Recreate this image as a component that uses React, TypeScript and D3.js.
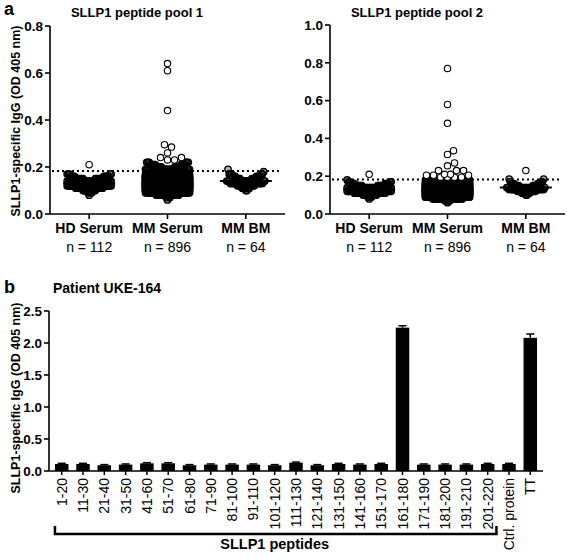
import React, { useMemo } from 'react';
import * as d3 from 'd3';

// ---------- Panel a data (grouped into bins with counts) ----------
const GROUPS = ['HD Serum', 'MM Serum', 'MM BM'];
const GROUP_N = ['n = 112', 'n = 896', 'n = 64'];
const CUTOFF = 0.183;

// pool 1
const P1_HD_VALUES = [0.08, 0.09, 0.10, 0.11, 0.12, 0.13, 0.14, 0.15, 0.16, 0.17, 0.21];
const P1_HD_COUNTS = [1, 3, 7, 12, 22, 18, 20, 14, 9, 5, 1];
const P1_MM_VALUES = [0.06, 0.07, 0.08, 0.09, 0.10, 0.11, 0.12, 0.13, 0.14, 0.15, 0.16, 0.17, 0.18, 0.19, 0.20, 0.21, 0.22, 0.23, 0.24, 0.26, 0.285, 0.295, 0.44, 0.61, 0.64];
const P1_MM_COUNTS = [1, 3, 15, 45, 80, 110, 128, 125, 105, 90, 75, 37, 30, 17, 10, 9, 6, 2, 2, 1, 1, 1, 1, 1, 1];
const P1_BM_VALUES = [0.10, 0.11, 0.12, 0.13, 0.14, 0.15, 0.16, 0.17, 0.18, 0.19];
const P1_BM_COUNTS = [2, 5, 8, 13, 14, 8, 7, 5, 1, 1];

// pool 2
const P2_HD_VALUES = [0.08, 0.09, 0.10, 0.11, 0.12, 0.13, 0.14, 0.15, 0.16, 0.17, 0.18, 0.21];
const P2_HD_COUNTS = [1, 3, 8, 14, 24, 20, 16, 12, 8, 4, 1, 1];
const P2_MM_VALUES = [0.06, 0.07, 0.08, 0.09, 0.10, 0.11, 0.12, 0.13, 0.14, 0.15, 0.16, 0.17, 0.18, 0.195, 0.205, 0.21, 0.23, 0.255, 0.27, 0.315, 0.335, 0.48, 0.58, 0.77];
const P2_MM_COUNTS = [1, 4, 20, 60, 95, 115, 124, 120, 100, 85, 65, 50, 38, 4, 3, 2, 3, 1, 1, 1, 1, 1, 1, 1];
const P2_BM_VALUES = [0.10, 0.11, 0.12, 0.13, 0.14, 0.15, 0.16, 0.17, 0.185, 0.23];
const P2_BM_COUNTS = [2, 5, 9, 14, 14, 8, 6, 3, 2, 1];

const POOL1_TICKS = [0, 0.2, 0.4, 0.6, 0.8];
const POOL2_TICKS = [0, 0.2, 0.4, 0.6, 0.8, 1.0];

// ---------- Panel b data ----------
const PEPTIDES = ['1-20', '11-30', '21-40', '31-50', '41-60', '51-70', '61-80', '71-90', '81-100', '91-110', '101-120', '111-130', '121-140', '131-150', '141-160', '151-170', '161-180', '171-190', '181-200', '191-210', '201-220', 'Ctrl. protein', 'TT'];
const OD_VALUES = [0.11, 0.11, 0.09, 0.10, 0.12, 0.12, 0.09, 0.10, 0.10, 0.10, 0.09, 0.13, 0.09, 0.11, 0.10, 0.11, 2.24, 0.10, 0.10, 0.10, 0.11, 0.11, 2.08];
const OD_ERRORS = [0.01, 0.01, 0.01, 0.01, 0.01, 0.01, 0.01, 0.01, 0.01, 0.01, 0.01, 0.01, 0.01, 0.01, 0.01, 0.01, 0.03, 0.01, 0.01, 0.01, 0.01, 0.01, 0.06];
const B_TICKS = [0, 0.5, 1.0, 1.5, 2.0, 2.5];

const FONT = '"Liberation Sans", Arial, Helvetica, sans-serif';
const R = 3.2;

function expand(values: number[], counts: number[]) {
  const out: number[] = [];
  values.forEach((v, i) => { for (let k = 0; k < counts[i]; k++) out.push(v); });
  return out;
}

// Prism-like column scatter: ascending values sweep outwards from the centre,
// wrapping back to the centre when the column width is used up; sparse high points avoid each other.
function columnLayout(values: number[], counts: number[], y: (v: number) => number, cx: number, half: number, K: number) {
  const s = half / K;
  const nSlots = 2 * K + 1;
  const pts: { x: number; y: number; open: boolean }[] = [];
  let slot = 0;
  const order = d3.range(values.length).sort((a, b) => values[a] - values[b]);
  const sparse: number[] = [];
  for (const i of order) {
    const v = values[i];
    const n = counts[i];
    if (v > CUTOFF + 0.01 && n <= 4) {
      for (let k = 0; k < n; k++) sparse.push(v);
      continue;
    }
    for (let k = 0; k < n; k++) {
      const j = slot % nSlots;
      const m = Math.ceil(j / 2);
      const dx = j === 0 ? 0 : (j % 2 === 1 ? m : -m) * s;
      pts.push({ x: cx + dx, y: y(v), open: false });
      slot++;
    }
  }
  const offs: number[] = [0];
  for (let k = 1; k <= half; k++) offs.push(k, -k);
  const open: { x: number; y: number; open: boolean }[] = [];
  for (const v of sparse) {
    const py = y(v);
    let best = 0;
    let bestD = -1;
    for (const o of offs) {
      let md = Infinity;
      for (const p of open) {
        const d = Math.hypot(p.x - (cx + o), p.y - py);
        if (d < md) md = d;
      }
      if (md >= 2 * R + 0.4) { best = o; break; }
      if (md > bestD) { bestD = md; best = o; }
    }
    open.push({ x: cx + best, y: py, open: true });
  }
  return pts.concat(open);
}

type PanelProps = {
  title: string;
  xRange: [number, number];
  yRange: [number, number];
  yMax: number;
  ticks: number[];
  halves: number[];
  sweeps: number[];
  groups: { values: number[]; counts: number[] }[];
};

function ScatterPanel({ title, xRange, yRange, yMax, ticks, halves, sweeps, groups }: PanelProps) {
  const x = d3.scalePoint<string>().domain(GROUPS).range(xRange).padding(0.5);
  const y = d3.scaleLinear().domain([0, yMax]).range(yRange);
  const swarms = useMemo(() => groups.map((g, i) => {
    const median = d3.median(expand(g.values, g.counts))!;
    return { pts: columnLayout(g.values, g.counts, y, x(GROUPS[i])!, halves[i], sweeps[i]), median };
  }), []);
  const x0 = xRange[0];
  const x1 = xRange[1];
  return (
    <g>
      <text x={x0 + 87} y={17} textAnchor="middle" fontWeight="bold" fontSize={13}>{title}</text>
      <line x1={x0 + 2} x2={x1 - 4} y1={y(CUTOFF)} y2={y(CUTOFF)} stroke="#000" strokeWidth={2} strokeDasharray="2 3" />
      {swarms.map((s, i) => (
        <g key={i}>
          {s.pts.map((p, j) => (
            p.open
              ? <circle key={j} cx={p.x} cy={p.y} r={R} fill="#fff" stroke="#000" strokeWidth={1.1} />
              : <circle key={j} cx={p.x} cy={p.y} r={R} fill="#000" fillOpacity={0.3} stroke="#000" strokeWidth={1.4} />
          ))}
          <line x1={x(GROUPS[i])! - 26} x2={x(GROUPS[i])! + 26} y1={y(s.median)} y2={y(s.median)} stroke="#000" strokeWidth={2} />
        </g>
      ))}
      <line x1={x0} x2={x0} y1={yRange[0]} y2={yRange[1]} stroke="#000" strokeWidth={1.6} />
      <line x1={x0} x2={x1} y1={yRange[0]} y2={yRange[0]} stroke="#000" strokeWidth={1.6} />
      {ticks.map((t) => (
        <g key={t}>
          <line x1={x0 - 5} x2={x0} y1={y(t)} y2={y(t)} stroke="#000" strokeWidth={1.6} />
          <text x={x0 - 7} y={y(t)} dy="0.36em" textAnchor="end" fontWeight="bold" fontSize={13.5}>{d3.format('.1f')(t)}</text>
        </g>
      ))}
      {GROUPS.map((g, i) => (
        <g key={g}>
          <line x1={x(g)} x2={x(g)} y1={yRange[0]} y2={yRange[0] + 5} stroke="#000" strokeWidth={1.6} />
          <text x={x(g)} y={233} textAnchor="middle" fontWeight="bold" fontSize={14}>{g}</text>
          <text x={x(g)} y={252} textAnchor="middle" fontSize={14}>{GROUP_N[i]}</text>
        </g>
      ))}
    </g>
  );
}

export default function App() {
  const bx = d3.scaleBand<string>().domain(PEPTIDES).range([49, 543]).paddingInner(0.366).paddingOuter(0.28);
  const by = d3.scaleLinear().domain([0, 2.5]).range([471, 311]);
  const bw = bx.bandwidth();
  const first = bx(PEPTIDES[0])!;
  const lastPep = bx(PEPTIDES[20])! + bw;
  return (
    <svg width={567} height={559} style={{ position: 'absolute', left: 0, top: 0, background: '#fff' }} fontFamily={FONT}>
      <rect width={567} height={559} fill="#fff" />
      <text x={4} y={15} fontWeight="bold" fontSize={18}>a</text>
      <text transform="translate(20,121) rotate(-90)" textAnchor="middle" fontWeight="bold" fontSize={12.5}>SLLP1-specific IgG (OD 405 nm)</text>
      <ScatterPanel title="SLLP1 peptide pool 1" xRange={[50, 285]} yRange={[214, 26]} yMax={0.8} ticks={POOL1_TICKS}
        halves={[22, 22, 19]} sweeps={[18, 18, 16]}
        groups={[{ values: P1_HD_VALUES, counts: P1_HD_COUNTS }, { values: P1_MM_VALUES, counts: P1_MM_COUNTS }, { values: P1_BM_VALUES, counts: P1_BM_COUNTS }]} />
      <ScatterPanel title="SLLP1 peptide pool 2" xRange={[330, 565]} yRange={[214, 25]} yMax={1.0} ticks={POOL2_TICKS}
        halves={[22, 22, 19]} sweeps={[18, 18, 16]}
        groups={[{ values: P2_HD_VALUES, counts: P2_HD_COUNTS }, { values: P2_MM_VALUES, counts: P2_MM_COUNTS }, { values: P2_BM_VALUES, counts: P2_BM_COUNTS }]} />

      {/* panel b */}
      <text x={4} y={293} fontWeight="bold" fontSize={18}>b</text>
      <text x={53} y={293} fontWeight="bold" fontSize={14}>Patient UKE-164</text>
      <text transform="translate(20,398) rotate(-90)" textAnchor="middle" fontWeight="bold" fontSize={12.5}>SLLP1-specific IgG (OD 405 nm)</text>
      {PEPTIDES.map((p, i) => {
        const cx = bx(p)! + bw / 2;
        return (
          <g key={p}>
            <rect x={bx(p)} y={by(OD_VALUES[i])} width={bw} height={by(0) - by(OD_VALUES[i])} fill="#000" />
            <line x1={cx} x2={cx} y1={by(OD_VALUES[i])} y2={by(OD_VALUES[i] + OD_ERRORS[i])} stroke="#000" strokeWidth={1.5} />
            <line x1={cx - 4} x2={cx + 4} y1={by(OD_VALUES[i] + OD_ERRORS[i])} y2={by(OD_VALUES[i] + OD_ERRORS[i])} stroke="#000" strokeWidth={1.5} />
            <line x1={cx} x2={cx} y1={471} y2={475} stroke="#000" strokeWidth={1.5} />
            <text transform={`translate(${cx},478) rotate(-90)`} textAnchor="end" dy="0.36em" fontSize={14}>{p}</text>
          </g>
        );
      })}
      <line x1={49} x2={49} y1={471} y2={311} stroke="#000" strokeWidth={1.6} />
      <line x1={49} x2={543} y1={471} y2={471} stroke="#000" strokeWidth={1.6} />
      {B_TICKS.map((t) => (
        <g key={t}>
          <line x1={44} x2={49} y1={by(t)} y2={by(t)} stroke="#000" strokeWidth={1.6} />
          <text x={42} y={by(t)} dy="0.36em" textAnchor="end" fontWeight="bold" fontSize={13.5}>{d3.format('.1f')(t)}</text>
        </g>
      ))}
      <path d={`M${first},526 V534 H${lastPep + 2} V526`} fill="none" stroke="#000" strokeWidth={2.5} />
      <text x={(first + lastPep) / 2} y={549} textAnchor="middle" fontWeight="bold" fontSize={14.5}>SLLP1 peptides</text>
    </svg>
  );
}
